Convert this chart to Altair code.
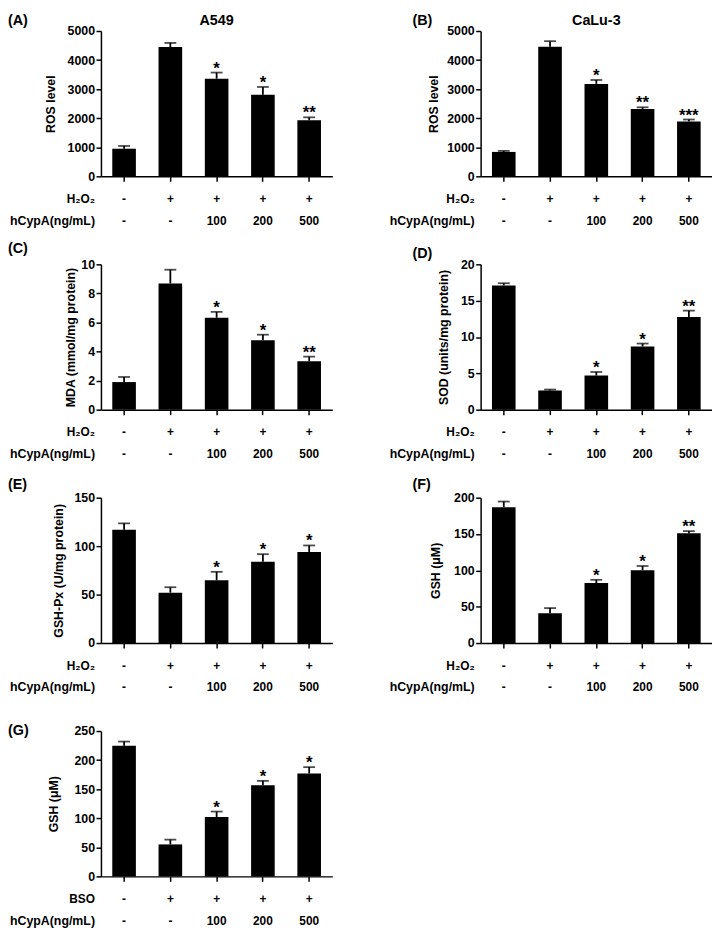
import altair as alt
import pandas as pd

FONT = "Liberation Sans"

# ---------------- data ----------------
groups = ["g1", "g2", "g3", "g4", "g5"]
h2o2 = ["-", "+", "+", "+", "+"]
bso = ["-", "+", "+", "+", "+"]
hcypa = ["-", "-", "100", "200", "500"]

ros_a549 = [950, 4450, 3360, 2810, 1930]
ros_a549_err = [95, 140, 210, 265, 100]
ros_a549_sig = ["", "", "*", "*", "**"]

ros_calu3 = [840, 4460, 3180, 2320, 1890]
ros_calu3_err = [35, 190, 135, 55, 65]
ros_calu3_sig = ["", "", "*", "**", "***"]

mda = [1.9, 8.68, 6.33, 4.77, 3.34]
mda_err = [0.35, 0.95, 0.4, 0.39, 0.31]
mda_sig = ["", "", "*", "*", "**"]

sod = [17.1, 2.64, 4.7, 8.7, 12.75]
sod_err = [0.3, 0.13, 0.49, 0.4, 0.88]
sod_sig = ["", "", "*", "*", "**"]

gshpx = [116.9, 52, 64.9, 83.8, 94]
gshpx_err = [6.6, 5.6, 8.6, 7.9, 6.7]
gshpx_sig = ["", "", "*", "*", "*"]

gsh_h2o2 = [186.8, 41, 82.6, 100.2, 151]
gsh_h2o2_err = [7.9, 7.1, 4.4, 5.8, 3]
gsh_h2o2_sig = ["", "", "*", "*", "**"]

gsh_bso = [224.7, 55, 102.2, 156.6, 176.9]
gsh_bso_err = [7.2, 8.2, 9.3, 7.7, 11]
gsh_bso_sig = ["", "", "*", "*", "*"]

ticks_ros = [0, 1000, 2000, 3000, 4000, 5000]
ticks_mda = [0, 2, 4, 6, 8, 10]
ticks_sod = [0, 5, 10, 15, 20]
ticks_gshpx = [0, 50, 100, 150]
ticks_gsh200 = [0, 50, 100, 150, 200]
ticks_gsh250 = [0, 50, 100, 150, 200, 250]

W = 234
H = 147


def panel(letter, letter_dx, letter_dy, title, values, errs, sigs,
          treat_name, treat, ytitle, ticks, title_x):
    df = pd.DataFrame({
        "group": groups,
        "value": values,
        "upper": [v + e for v, e in zip(values, errs)],
        "sig": sigs,
        "treat": treat,
        "hcypa": hcypa,
    })
    x = alt.X("group:N", sort=groups,
              scale=alt.Scale(domain=groups, paddingInner=0.49, paddingOuter=0.245),
              axis=alt.Axis(title=None, labels=False, ticks=True, tickSize=5,
                            tickWidth=1.5, domainWidth=1.5))
    yscale = alt.Scale(domain=[ticks[0], ticks[-1]], nice=False, zero=True)
    yaxis = alt.Axis(title=ytitle, values=ticks, format="d", tickSize=5, tickWidth=1.5,
                     domainWidth=1.5, labelPadding=1.5,
                     titleX=title_x, titleY=H / 2, titleAngle=270,
                     titleAlign="center", titleBaseline="middle")

    def Y(field):
        return alt.Y(field + ":Q", scale=yscale, axis=yaxis)

    base = alt.Chart(df)
    bars = base.mark_bar(color="black").encode(x=x, y=Y("value"))
    err = base.mark_rule(color="black", strokeWidth=1.8).encode(
        x=x, y=Y("value"), y2="upper:Q")
    cap = base.mark_tick(color="black", size=12, thickness=1.8).encode(
        x=x, y=Y("upper"))
    stars = base.mark_text(font=FONT, fontSize=17, fontWeight="bold",
                           baseline="alphabetic", dy=1, color="black").encode(
        x=x, y=Y("upper"), text="sig:N")
    row1 = base.mark_text(font=FONT, fontSize=12, fontWeight="bold",
                          baseline="middle", color="black").encode(
        x=x, y=alt.value(H + 23), text="treat:N")
    row2 = base.mark_text(font=FONT, fontSize=12, fontWeight="bold",
                          baseline="middle", color="black").encode(
        x=x, y=alt.value(H + 45), text="hcypa:N")

    lab = pd.DataFrame({"l1": [treat_name], "l2": ["hCypA(ng/mL)"],
                        "letter": [letter], "title": [title]})
    lb = alt.Chart(lab)
    lab1 = lb.mark_text(font=FONT, fontSize=12, fontWeight="bold", align="right",
                        baseline="middle", color="black").encode(
        x=alt.value(-6), y=alt.value(H + 23), text="l1:N")
    lab2 = lb.mark_text(font=FONT, fontSize=12.5, fontWeight="bold", align="right",
                        baseline="middle", color="black").encode(
        x=alt.value(-6), y=alt.value(H + 45), text="l2:N")
    let = lb.mark_text(font=FONT, fontSize=14.5, fontWeight="bold", align="left",
                       baseline="middle", color="black").encode(
        x=alt.value(letter_dx), y=alt.value(letter_dy), text="letter:N")
    layers = [bars, err, cap, stars, row1, row2, lab1, lab2, let]
    if title:
        ttl = lb.mark_text(font=FONT, fontSize=14.5, fontWeight="bold", align="center",
                           baseline="middle", color="black").encode(
            x=alt.value(W / 2), y=alt.value(letter_dy), text="title:N")
        layers.append(ttl)
    return alt.layer(*layers).properties(width=W, height=H)


pA = panel("(A)", -94, -10, "A549", ros_a549, ros_a549_err, ros_a549_sig,
           "H₂O₂", h2o2, "ROS level", ticks_ros, -51)
pB = panel("(B)", -69, -10, "CaLu-3", ros_calu3, ros_calu3_err, ros_calu3_sig,
           "H₂O₂", h2o2, "ROS level", ticks_ros, -48)
pC = panel("(C)", -94, -15, "", mda, mda_err, mda_sig,
           "H₂O₂", h2o2, "MDA (mmol/mg protein)", ticks_mda, -31)
pD = panel("(D)", -69, -10, "", sod, sod_err, sod_sig,
           "H₂O₂", h2o2, "SOD (units/mg protein)", ticks_sod, -37)
pE = panel("(E)", -94, -13, "", gshpx, gshpx_err, gshpx_sig,
           "H₂O₂", h2o2, "GSH-Px (U/mg protein)", ticks_gshpx, -43)
pF = panel("(F)", -69, -13, "", gsh_h2o2, gsh_h2o2_err, gsh_h2o2_sig,
           "H₂O₂", h2o2, "GSH (μM)", ticks_gsh200, -46)
pG = panel("(G)", -94, 0, "", gsh_bso, gsh_bso_err, gsh_bso_sig,
           "BSO", bso, "GSH (μM)", ticks_gsh250, -48)

chart = alt.concat(pA, pB, pC, pD, pE, pF, pG, columns=2,
                   spacing={"row": 89, "column": 150}, bounds="flush").properties(
    padding={"left": 0, "top": 0, "right": 0, "bottom": 0}
).configure_axis(
    labelFont=FONT, labelFontSize=12.5, labelFontWeight="bold", labelColor="black",
    titleFont=FONT, titleFontSize=12.5, titleFontWeight="bold", titleColor="black",
    domainColor="black", tickColor="black", grid=False,
).configure_view(stroke=None)

chart.save("out.html", embed_options={"renderer": "svg", "actions": False})
